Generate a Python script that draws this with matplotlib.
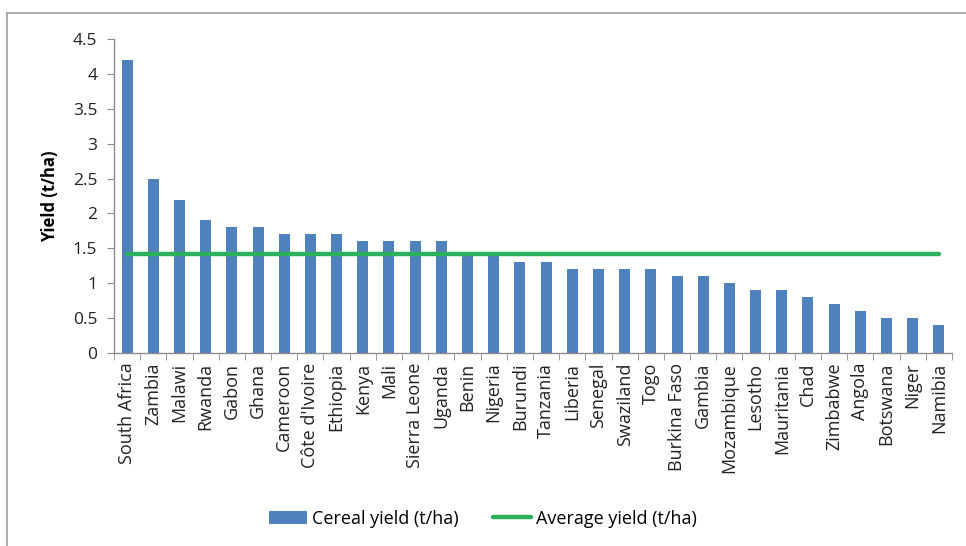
import matplotlib.pyplot as plt
from matplotlib.lines import Line2D
import numpy as np

plt.rcParams['font.family'] = ['Open Sans', 'DejaVu Sans']

countries = ['South Africa', 'Zambia', 'Malawi', 'Rwanda', 'Gabon', 'Ghana',
             'Cameroon', "Côte d'Ivoire", 'Ethiopia', 'Kenya', 'Mali',
             'Sierra Leone', 'Uganda', 'Benin', 'Nigeria', 'Burundi',
             'Tanzania', 'Liberia', 'Senegal', 'Swaziland', 'Togo',
             'Burkina Faso', 'Gambia', 'Mozambique', 'Lesotho', 'Mauritania',
             'Chad', 'Zimbabwe', 'Angola', 'Botswana', 'Niger', 'Namibia']
yields = [4.2, 2.5, 2.2, 1.9, 1.8, 1.8, 1.7, 1.7, 1.7, 1.6, 1.6, 1.6, 1.6,
          1.4, 1.4, 1.3, 1.3, 1.2, 1.2, 1.2, 1.2, 1.1, 1.1, 1.0, 0.9, 0.9,
          0.8, 0.7, 0.6, 0.5, 0.5, 0.4]
avg_yield = 1.42

blue = '#4f81bd'
green = '#2bb15c'
grey = '#8c8c8c'

fig = plt.figure(figsize=(9.66, 5.46), dpi=100)
ax = fig.add_axes([0.118, 0.3535, 0.8675, 0.575])

x = np.arange(len(countries))
bars = ax.bar(x, yields, width=0.42, color=blue, label='Cereal yield (t/ha)', zorder=2)
avg_line, = ax.plot(x, [avg_yield] * len(x), color=green, lw=3.2,
                    label='Average yield (t/ha)', solid_capstyle='round', zorder=3)

ax.set_xlim(-0.5, len(x) - 0.5)
ax.set_ylim(0, 4.5)
ax.set_yticks(np.arange(0, 4.51, 0.5))
ax.set_yticklabels(['0', '0.5', '1', '1.5', '2', '2.5', '3', '3.5', '4', '4.5'])
ax.set_xticks(x)
ax.set_xticklabels(countries, rotation=90, fontsize=13, color='#222222')
ax.set_xticks(np.arange(-0.5, len(x)), minor=True)
ax.tick_params(axis='x', which='major', length=0, pad=7)
ax.tick_params(axis='x', which='minor', length=5, color=grey, direction='out')
ax.tick_params(axis='y', length=5, color=grey, labelsize=12.5, labelcolor='#222222', pad=7)

for s in ['top', 'right']:
    ax.spines[s].set_visible(False)
for s in ['left', 'bottom']:
    ax.spines[s].set_color(grey)
    ax.spines[s].set_linewidth(1)

ax.set_ylabel('Yield (t/ha)', fontsize=12, fontweight='bold', labelpad=10)

fig.legend(handles=[bars, avg_line], loc='center', bbox_to_anchor=(0.5, 0.05),
           ncol=2, frameon=False, fontsize=13, handlelength=2.1,
           handletextpad=0.3, columnspacing=1.9)

# outer chart border
fig.add_artist(Line2D([0.0068, 0.0068], [0.0, 0.976], color='#a0a0a0', lw=1.2))
fig.add_artist(Line2D([0.0068, 1.0], [0.976, 0.976], color='#a0a0a0', lw=1.2))

fig.savefig('out.png', dpi=100)
